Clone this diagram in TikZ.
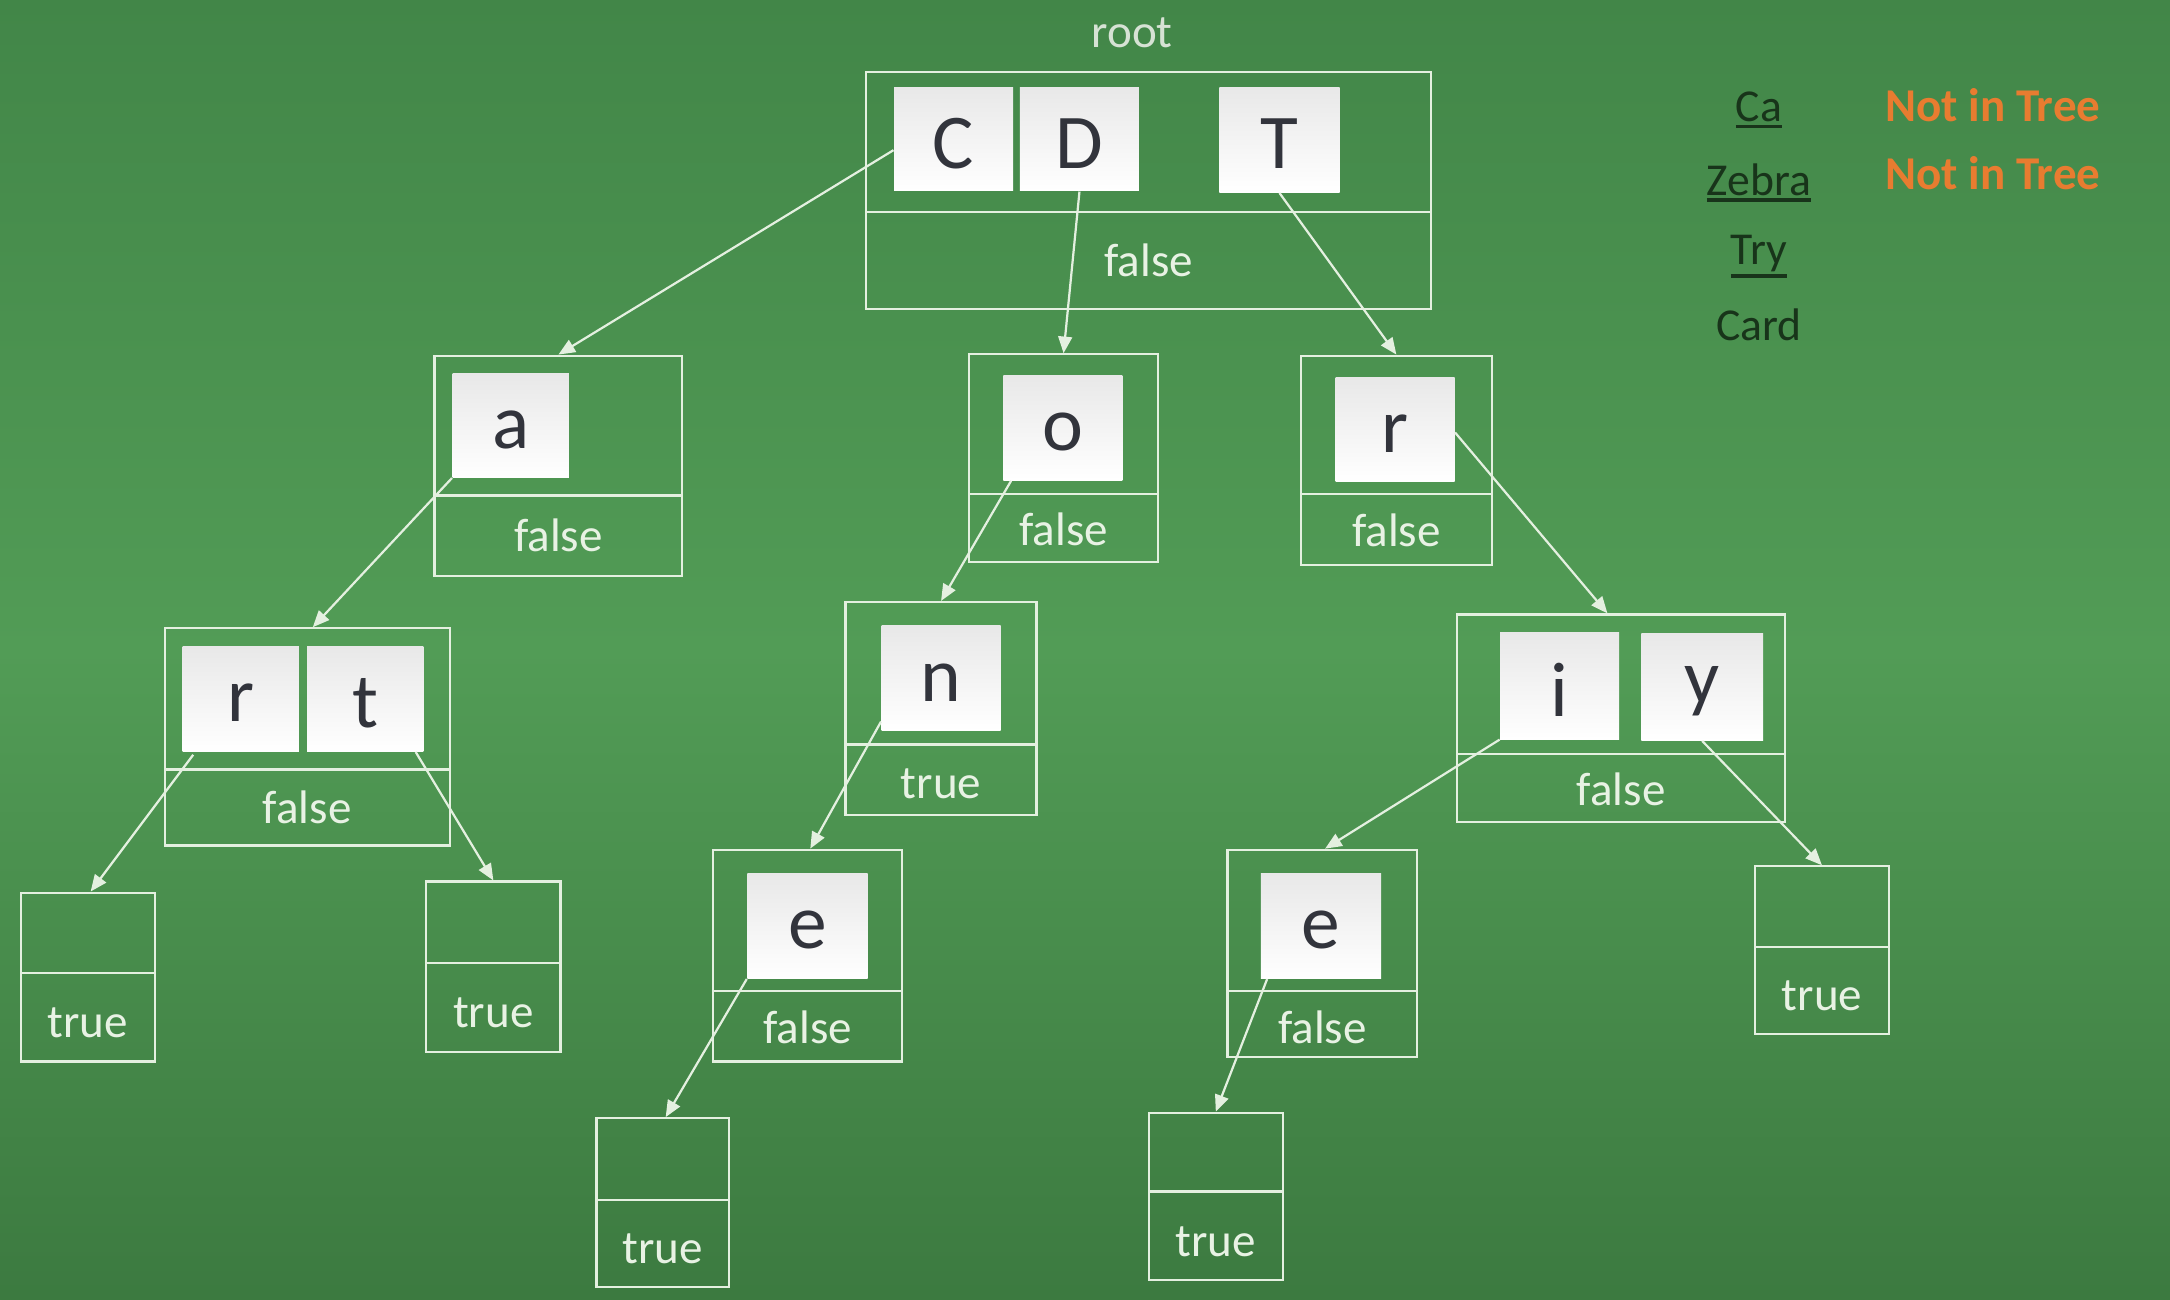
\documentclass[tikz,border=0pt]{standalone}
\usepackage{fontspec}
\setmainfont{Carlito}
\usetikzlibrary{fit,arrows.meta}
\definecolor{bgtop}{RGB}{66,134,72}
\definecolor{bgmid}{RGB}{82,156,86}
\definecolor{bgbot}{RGB}{60,122,64}
\definecolor{linec}{RGB}{228,240,224}
\definecolor{valc}{RGB}{232,242,228}
\definecolor{letc}{RGB}{50,52,60}
\definecolor{legc}{RGB}{24,52,26}
\definecolor{orc}{RGB}{232,124,48}
\definecolor{rootc}{RGB}{214,226,212}
\tikzset{
  trie/.style={draw=linec, line width=0.8pt, inner sep=0pt},
  divline/.style={draw=linec, line width=0.8pt},
  keybox/.style={inner sep=0pt, top color=black!9, bottom color=white, draw=none},
  keytxt/.style={text=letc, font=\fontsize{28}{32}\selectfont, inner sep=0pt},
  valtxt/.style={text=valc, font=\fontsize{17}{20}\selectfont, inner sep=0pt},
  legtxt/.style={text=legc, font=\fontsize{16.5}{20}\selectfont, inner sep=0pt},
  nottxt/.style={text=orc, font=\fontsize{17}{20}\selectfont\bfseries, inner sep=0pt},
  link/.style={draw=linec, line width=0.8pt, -{Triangle[length=6pt,width=5pt]}},
}
\newcommand\thickul[1]{\leavevmode\vtop{\hbox{#1}\kern1.0pt\hrule height 1.3pt}}
% name, x1, y1, x2, y2, divider, value, value y offset
\newcommand\trienode[8]{%
  \node[trie, fit={(#2,#3) (#4,#5)}] (#1) {};
  \draw[divline] (#2,#6) -- (#4,#6);
  \node[valtxt] (#1-v) at ({(#2+#4)/2},{(#6+#5)/2+#8}) {#7};
}
% name, x1, y1, x2, y2, letter
\newcommand\keynode[6]{%
  \node[keybox, fit={(#2,#3) (#4,#5)}] (#1) {};
  \node[keytxt] (#1-t) at ([yshift=-1.5pt]#1.center) {#6};
}
\begin{document}
\begin{tikzpicture}[x=0.5pt, y=-0.5pt]
\useasboundingbox (0,0) rectangle (1568,939);
\fill[top color=bgtop, bottom color=bgmid] (0,0) rectangle (1568,470);
\fill[top color=bgmid, bottom color=bgbot] (0,469) rectangle (1568,939);

\node[text=rootc, font=\fontsize{17}{20}\selectfont, inner sep=0pt] (rootlbl) at (818,24) {root};

% trie nodes
\trienode{root}{626}{52}{1034}{223}{153}{false}{0}
\trienode{na}{314}{257}{493}{416}{358}{false}{0}
\trienode{no}{700}{256}{837}{406}{357}{false}{1}
\trienode{nr}{940}{257}{1078}{408}{357}{false}{1}
\trienode{nrt}{119}{454}{325}{611}{556}{false}{0}
\trienode{nn}{611}{435}{749}{589}{538}{true}{3}
\trienode{niy}{1053}{444}{1290}{594}{545}{false}{1}
\trienode{ne1}{515}{614}{652}{767}{716}{false}{1}
\trienode{ne2}{887}{614}{1024}{764}{716}{false}{2}
\trienode{l1}{15}{645}{112}{767}{703}{true}{4}
\trienode{l2}{308}{637}{405}{760}{696}{true}{4}
\trienode{l3}{431}{808}{527}{930}{867}{true}{4}
\trienode{l4}{830}{804}{927}{925}{861}{true}{4}
\trienode{l5}{1268}{626}{1365}{747}{684}{true}{4}

% key boxes
\keynode{kC}{646}{63}{732}{138}{C}
\keynode{kD}{737}{63}{823}{138}{D}
\keynode{kT}{881}{63}{968}{139}{T}
\keynode{ka}{327}{270}{411}{345}{a}
\keynode{ko}{725}{271}{811}{347}{o}
\keynode{kr}{965}{273}{1051}{348}{r}
\keynode{kr2}{132}{467}{216}{543}{r}
\keynode{kt}{222}{467}{306}{543}{t}
\keynode{kn}{637}{452}{723}{528}{n}
\keynode{ki}{1084}{457}{1170}{534}{i}
\keynode{ky}{1186}{458}{1274}{535}{y}
\keynode{ke1}{540}{631}{627}{707}{e}
\keynode{ke2}{911}{631}{998}{707}{e}

% connectors
\draw[link] ([yshift=-4pt]kC.west) -- (na.north);
\draw[link] (kD.south) -- (no.north);
\draw[link] (kT.south) -- (nr.north);
\draw[link] (ka.south west) -- ([xshift=2pt]nrt.north);
\draw[link] ([xshift=3pt]ko.south west) -- (nn.north);
\draw[link] ([yshift=-1pt]kr.east) -- ([xshift=-5pt]niy.north);
\draw[link] ([xshift=4pt,yshift=-1pt]kr2.south west) -- ([xshift=1pt]l1.north);
\draw[link] ([xshift=-3pt]kt.south east) -- (l2.north);
\draw[link] ([yshift=3.5pt]kn.south west) -- ([xshift=1pt]ne1.north);
\draw[link] (ke1.south west) -- ([xshift=1pt]l3.north);
\draw[link] (ki.south west) -- ([xshift=1pt]ne2.north);
\draw[link] ([xshift=2.5pt]ke2.south west) -- (l4.north);
\draw[link] (ky.south) -- (l5.north);

% legend
\node[legtxt, anchor=base] (wCa) at (1271,88) {\thickul{Ca}};
\node[legtxt, anchor=base] (wZebra) at (1271,141) {\thickul{Zebra}};
\node[legtxt, anchor=base] (wTry) at (1271,191) {\thickul{Try}};
\node[legtxt, anchor=base] (wCard) at (1271,246) {Card};
\node[nottxt] (nt1) at (1440,76) {Not in Tree};
\node[nottxt] (nt2) at (1440,125) {Not in Tree};
\end{tikzpicture}
\end{document}
